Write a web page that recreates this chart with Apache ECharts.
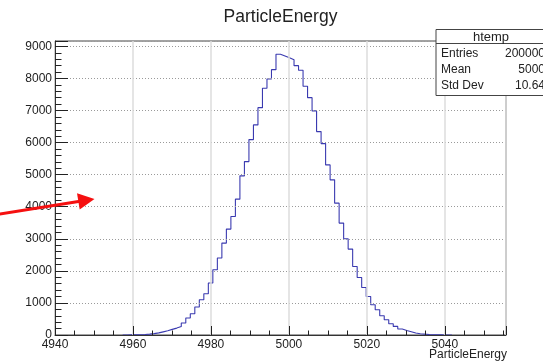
<!DOCTYPE html>
<html>
<head>
<meta charset="utf-8">
<script src="https://cdn.jsdelivr.net/npm/echarts@6/dist/echarts.min.js"></script>
<style>
  html, body { margin: 0; padding: 0; background: #fff; }
  #chart { width: 543px; height: 363px; }
</style>
</head>
<body>
<div id="chart"></div>
<script>
// histogram binning (100 bins)
var xMin = 4940
var binWidth = 1.157
var binCounts = [
  0, 0, 0, 0, 0, 0, 0, 0, 0, 0,
  0, 0, 0, 0, 0, 1, 3, 5, 9, 16,
  26, 42, 66, 98, 130, 175, 215, 268, 374, 530,
  664, 872, 1100, 1287, 1620, 2034, 2399, 2866, 3302, 3695,
  4237, 4963, 5408, 6093, 6551, 7090, 7695, 7984, 8274, 8754,
  8701, 8648, 8586, 8399, 8255, 7757, 7402, 6988, 6343, 5969,
  5305, 4838, 4112, 3489, 3000, 2679, 2137, 1795, 1483, 1202,
  944, 788, 601, 477, 352, 268, 187, 143, 103, 62,
  40, 26, 16, 10, 6, 3, 2, 1, 0, 0,
  0, 0, 0, 0, 0, 0, 0, 0, 0, 0
]
var yMax = 9168
var statsLabels = ['Entries', 'Mean', 'Std Dev']
var statsValues = ['200000', '5000', '10.64']
var histName = 'htemp'
var titleText = 'ParticleEnergy'
var xTitle = 'ParticleEnergy'

var FONT = '"Liberation Sans", Arial, sans-serif'

// step outline, empty bins at both ends are left out (they sit on the axis)
var first = 0, last = binCounts.length - 1
while (first < last && binCounts[first] === 0) first++
while (last > first && binCounts[last] === 0) last--
var stepData = [[xMin + first * binWidth, 0]]
for (var i = first; i <= last; i++) {
  stepData.push([xMin + i * binWidth, binCounts[i]])
}
stepData.push([xMin + (last + 1) * binWidth, binCounts[last]])
stepData.push([xMin + (last + 1) * binWidth, 0])
var xMax = xMin + binCounts.length * binWidth

var chart = echarts.init(document.getElementById('chart'))

// stats box
var boxX = 436, boxY = 29.5, boxW = 112, rowH = 16
var stats = [
  { type: 'rect', shape: { x: boxX, y: boxY, width: boxW, height: 14 + rowH * statsLabels.length + 4 },
    style: { fill: '#fff', stroke: '#444', lineWidth: 1 }, z: 100 },
  { type: 'line', shape: { x1: boxX, y1: boxY + 14, x2: boxX + boxW, y2: boxY + 14 },
    style: { stroke: '#444', lineWidth: 1 }, z: 101 },
  { type: 'text', x: boxX + 55, y: boxY + 7.5, z: 101,
    style: { text: histName, font: '13px ' + FONT, fill: '#222', align: 'center', verticalAlign: 'middle' } }
]
statsLabels.forEach(function (lab, k) {
  var yy = boxY + 14 + 10 + k * rowH
  stats.push({ type: 'text', x: boxX + 5, y: yy, z: 101,
    style: { text: lab, font: '12px ' + FONT, fill: '#222', align: 'left', verticalAlign: 'middle' } })
  stats.push({ type: 'text', x: 545, y: yy, z: 101,
    style: { text: statsValues[k], font: '12px ' + FONT, fill: '#222', align: 'right', verticalAlign: 'middle' } })
})

var plainNum = function (v) { return String(Math.round(v)) }

chart.setOption({
  animation: false,
  backgroundColor: '#fff',
  grid: {
    left: 55,
    right: 37,
    top: 41,
    bottom: 28,
    show: true,
    borderColor: '#444',
    borderWidth: 1
  },
  xAxis: {
    type: 'value',
    min: xMin,
    max: xMax,
    interval: 20,
    z: 10,
    axisLine: { show: true, onZero: false, lineStyle: { color: '#333' } },
    axisTick: { show: true, inside: true, length: 9, lineStyle: { color: '#222', width: 1 } },
    minorTick: { show: true, splitNumber: 4, length: 4.5, lineStyle: { color: '#222', width: 1 } },
    axisLabel: { margin: 4, fontSize: 12, fontFamily: FONT, color: '#222', showMaxLabel: false, formatter: plainNum },
    splitLine: { show: true, lineStyle: { color: '#dcdcdc', width: 1.5 } }
  },
  yAxis: {
    type: 'value',
    min: 0,
    max: yMax,
    interval: 1000,
    z: 10,
    axisLine: { show: true, lineStyle: { color: '#333' } },
    axisTick: { show: true, inside: true, length: 13, lineStyle: { color: '#222', width: 1 } },
    minorTick: { show: true, splitNumber: 5, length: 6.5, lineStyle: { color: '#222', width: 1 } },
    axisLabel: { margin: 3, fontSize: 12, fontFamily: FONT, color: '#222', showMaxLabel: false, formatter: plainNum },
    splitLine: { show: true, lineStyle: { color: '#9a9a9a', width: 1, type: [1, 2] } }
  },
  series: [{
    type: 'line',
    step: 'end',
    data: stepData,
    symbol: 'none',
    lineStyle: { color: '#3a3ab0', width: 1.1 },
    z: 5
  }],
  graphic: [
    { type: 'text', x: 280.5, y: 17, z: 101,
      style: { text: titleText, font: '17.5px ' + FONT, fill: '#222', align: 'center', verticalAlign: 'middle' } },
    { type: 'text', x: 507, y: 355, z: 101,
      style: { text: xTitle, font: '12px ' + FONT, fill: '#222', align: 'right', verticalAlign: 'middle' } },
    // red annotation arrow
    { type: 'line', shape: { x1: -2, y1: 214.3, x2: 80, y2: 201.3 },
      style: { stroke: '#f51010', lineWidth: 3 }, z: 110 },
    { type: 'polygon', shape: { points: [[94.5, 199], [77, 193.3], [79.7, 209.6]] },
      style: { fill: '#f51010' }, z: 110 }
  ].concat(stats)
})
</script>
</body>
</html>
